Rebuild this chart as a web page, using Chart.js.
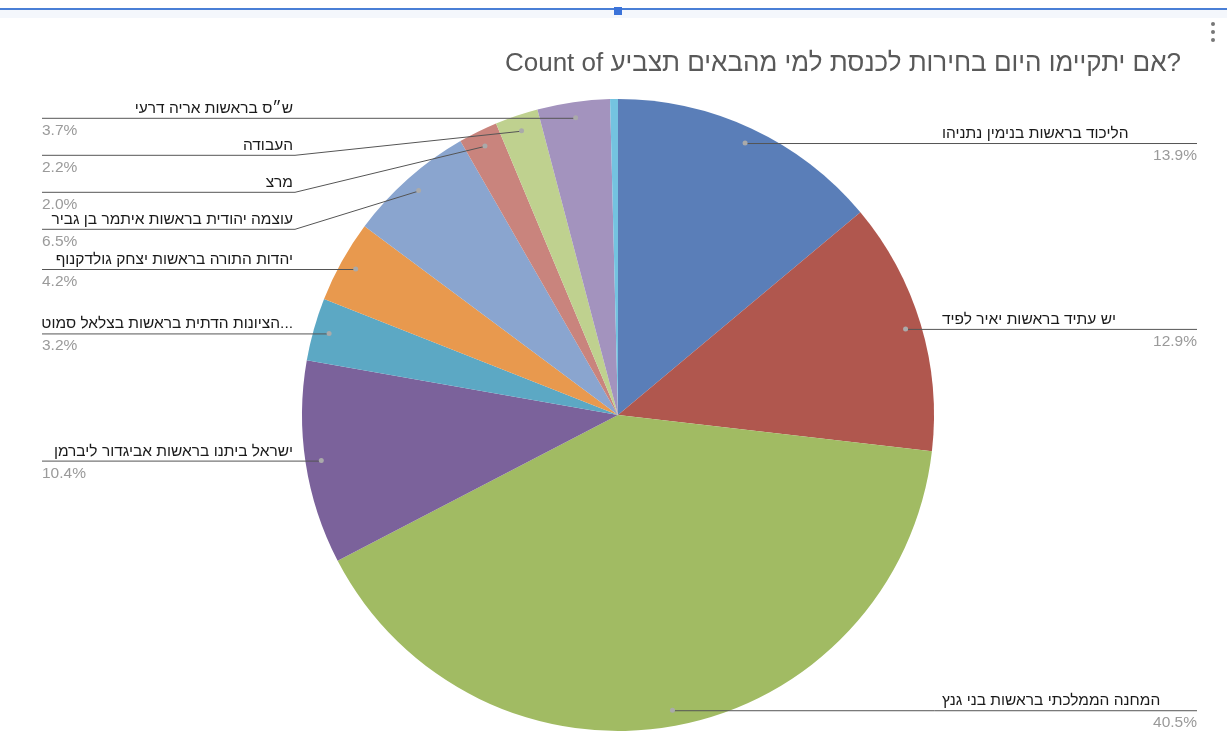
<!DOCTYPE html>
<html>
<head>
<meta charset="utf-8">
<script src="https://cdn.jsdelivr.net/npm/chart.js@4.4.1/dist/chart.umd.min.js"></script>
<style>
  body { margin: 0; background: #fff; overflow: hidden; }
  #wrap { position: relative; width: 1227px; height: 733px; }
  #topbar { position: absolute; left: 0; top: 8px; width: 1227px; height: 2px; background: #4a7fd6; }
  #topband { position: absolute; left: 0; top: 10px; width: 1227px; height: 8px; background: #f4f7fc; }
  #handle { position: absolute; left: 614px; top: 7px; width: 8px; height: 8px; background: #3b73d9; }
  .dot { position: absolute; left: 1211px; width: 4px; height: 4px; border-radius: 2px; background: #777; }
  canvas { position: absolute; left: 0; top: 0; }
</style>
</head>
<body>
<div id="wrap">
  <div id="topband"></div>
  <div id="topbar"></div>
  <div id="handle"></div>
  <div class="dot" style="top:22px"></div>
  <div class="dot" style="top:30px"></div>
  <div class="dot" style="top:38px"></div>
  <canvas id="chartCanvas" width="1227" height="733"></canvas>
</div>
<script>
const chartTitle = 'Count of אם יתקיימו היום בחירות לכנסת למי מהבאים תצביע?';
const parties = [
  'הליכוד בראשות בנימין נתניהו',
  'יש עתיד בראשות יאיר לפיד',
  'המחנה הממלכתי בראשות בני גנץ',
  'ישראל ביתנו בראשות אביגדור ליברמן',
  '...הציונות הדתית בראשות בצלאל סמוט',
  'יהדות התורה בראשות יצחק גולדקנוף',
  'עוצמה יהודית בראשות איתמר בן גביר',
  'מרצ',
  'העבודה',
  'ש״ס בראשות אריה דרעי',
  'אחר'
];
const shares = [13.9, 12.9, 40.5, 10.4, 3.2, 4.2, 6.5, 2.0, 2.2, 3.7, 0.4];
const sliceColors = ['#5a7eb8', '#b0574e', '#a1bb63', '#7b629b', '#5ca8c4', '#e8994e',
                     '#8aa5cf', '#c9847d', '#bfd18f', '#a393be', '#74c3e0'];

// leader lines + labels, drawn google-sheets style
const labelPlugin = {
  id: 'labels',
  afterDraw(chart) {
    const ctx = chart.ctx;
    const meta = chart.getDatasetMeta(0);
    const data = chart.data.datasets[0].data;
    const total = data.reduce((a, b) => a + b, 0);
    const left = [], right = [];
    meta.data.forEach((arc, i) => {
      if (data[i] / total < 0.01) return;
      const p = arc.getProps(['x', 'y', 'startAngle', 'endAngle', 'outerRadius'], true);
      const mid = (p.startAngle + p.endAngle) / 2;
      const r = p.outerRadius * 0.95;
      const item = {
        i,
        dx: p.x + Math.cos(mid) * r,
        dy: p.y + Math.sin(mid) * r,
        pct: (data[i] / total * 100).toFixed(1) + '%'
      };
      (Math.cos(mid) >= 0 ? right : left).push(item);
    });

    // stack left labels so they don't overlap
    left.sort((a, b) => a.dy - b.dy);
    let prev = -Infinity;
    left.forEach(it => { it.ly = Math.max(it.dy, prev + 37); prev = it.ly; });
    right.forEach(it => { it.ly = it.dy; });

    ctx.save();
    ctx.lineWidth = 1;
    ctx.strokeStyle = '#555';
    ctx.font = '15.5px "Liberation Sans", Arial, sans-serif';
    ctx.direction = 'rtl';

    left.forEach(it => {
      ctx.beginPath();
      ctx.moveTo(42, it.ly + 0.5);
      ctx.lineTo(295, it.ly + 0.5);
      ctx.lineTo(it.dx, it.dy + 0.5);
      ctx.stroke();
      ctx.fillStyle = '#1a1a1a';
      ctx.textAlign = 'right';
      ctx.textBaseline = 'alphabetic';
      ctx.fillText(parties[it.i], 293, it.ly - 5);
      ctx.fillStyle = '#9a9a9a';
      ctx.textAlign = 'left';
      ctx.direction = 'ltr';
      ctx.fillText(it.pct, 42, it.ly + 17);
      ctx.direction = 'rtl';
    });

    right.forEach(it => {
      ctx.beginPath();
      ctx.moveTo(it.dx, it.ly + 0.5);
      ctx.lineTo(1197, it.ly + 0.5);
      ctx.stroke();
      ctx.fillStyle = '#1a1a1a';
      ctx.textAlign = 'left';
      ctx.fillText(parties[it.i], 942, it.ly - 5);
      ctx.fillStyle = '#9a9a9a';
      ctx.textAlign = 'right';
      ctx.direction = 'ltr';
      ctx.fillText(it.pct, 1197, it.ly + 17);
      ctx.direction = 'rtl';
    });

    [...left, ...right].forEach(it => {
      ctx.beginPath();
      ctx.fillStyle = '#aaa';
      ctx.arc(it.dx, it.dy, 2.5, 0, Math.PI * 2);
      ctx.fill();
    });

    // title
    ctx.direction = 'ltr';
    ctx.textAlign = 'right';
    ctx.fillStyle = '#595959';
    ctx.font = '26px "Liberation Sans", Arial, sans-serif';
    ctx.fillText(chartTitle, 1181, 71);
    ctx.restore();
  }
};

const ctx = document.getElementById('chartCanvas').getContext('2d');
new Chart(ctx, {
  type: 'pie',
  data: {
    labels: parties,
    datasets: [{
      data: shares,
      backgroundColor: sliceColors,
      borderWidth: 0
    }]
  },
  options: {
    responsive: false,
    animation: false,
    layout: { padding: { top: 99, bottom: 2, left: 302, right: 293 } },
    plugins: {
      legend: { display: false },
      tooltip: { enabled: false },
      title: { display: false }
    }
  },
  plugins: [labelPlugin]
});
</script>
</body>
</html>
